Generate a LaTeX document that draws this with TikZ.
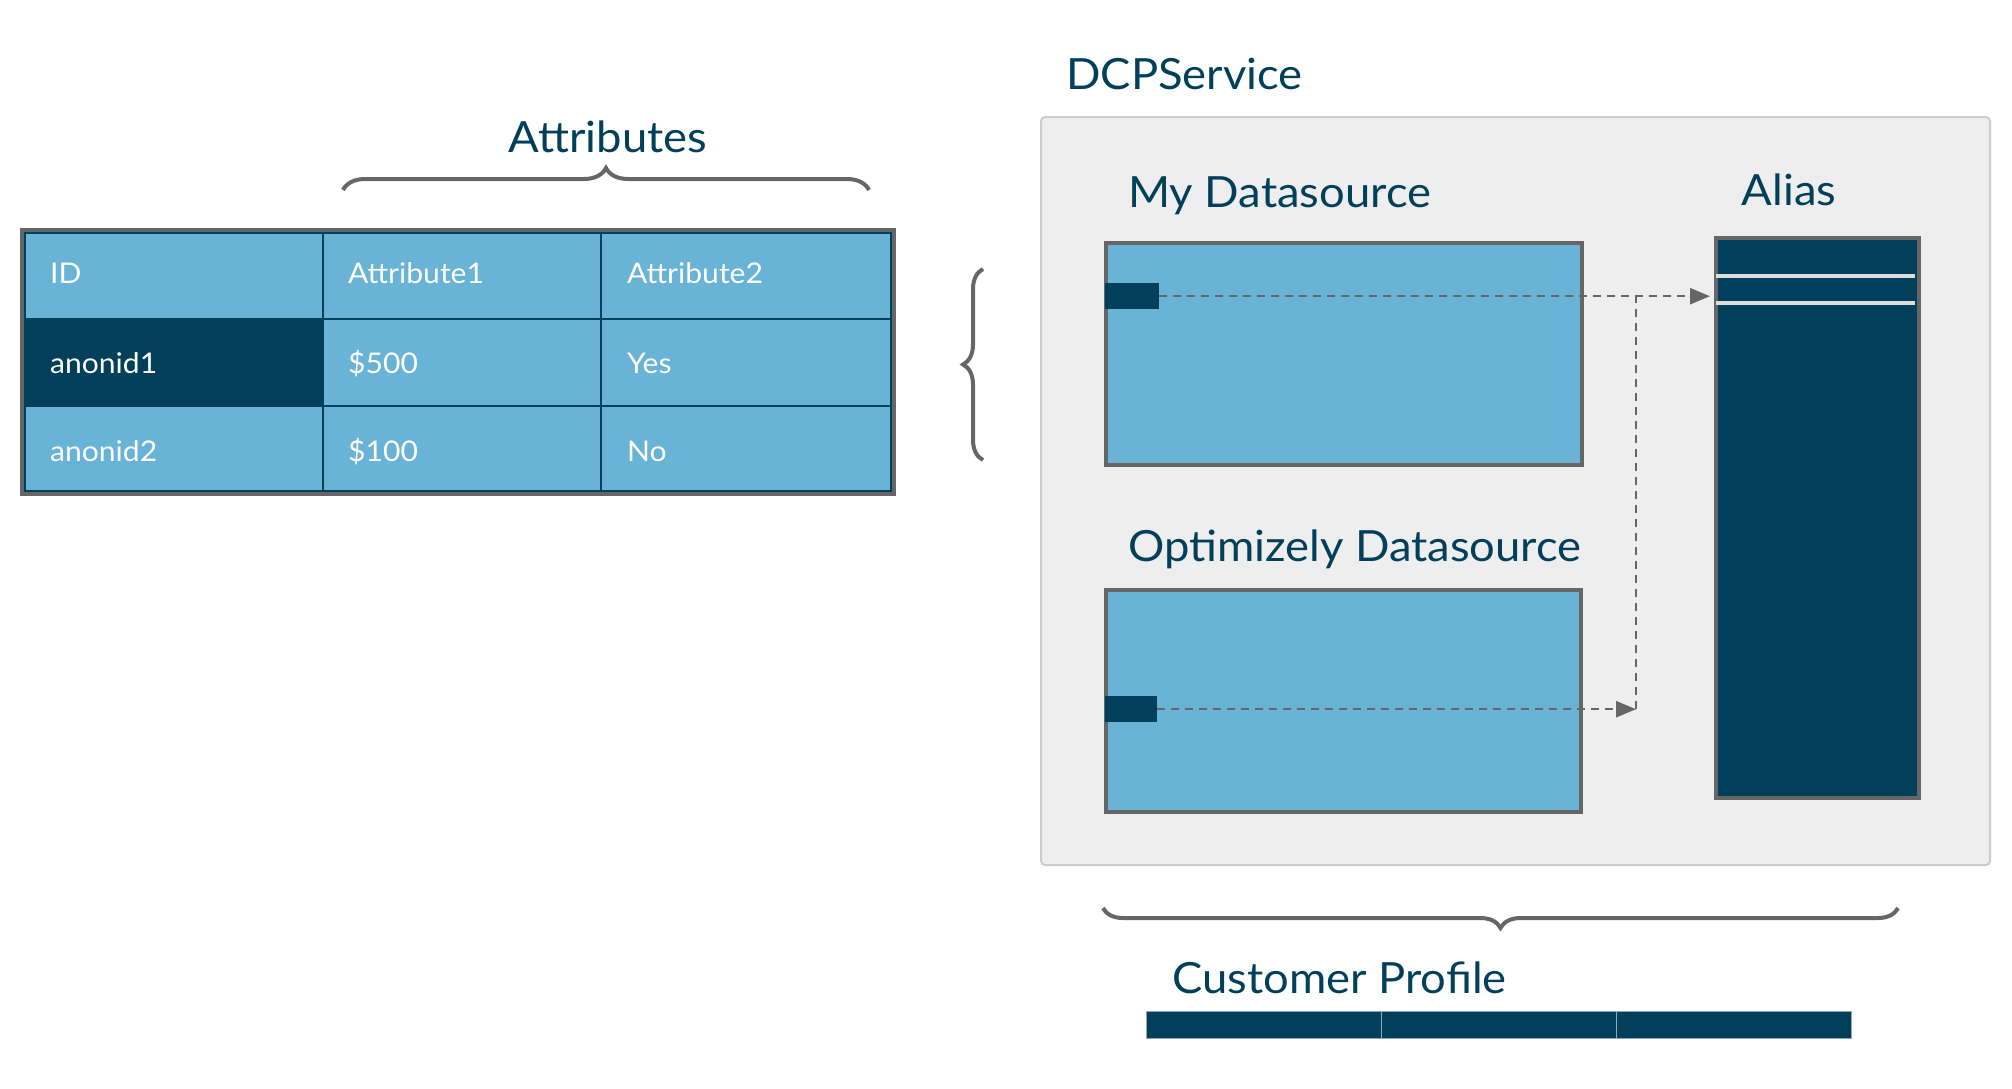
\documentclass[tikz,border=0pt]{standalone}
\usepackage{fontspec}
\setmainfont{Lato}[FakeStretch=1.055]
\usetikzlibrary{arrows.meta,decorations.pathreplacing}
\definecolor{navy}{HTML}{023F5A}
\definecolor{lblue}{HTML}{69B3D6}
\definecolor{dgray}{HTML}{666666}
\definecolor{panel}{HTML}{EEEEEE}
\definecolor{panelborder}{HTML}{CCCCCC}
\definecolor{aliasline}{HTML}{DDDDDD}
\begin{document}
\begin{tikzpicture}[x=1pt,y=-1pt,
  lbl/.style={text=navy,font=\fontsize{43}{50}\selectfont,inner sep=0pt,anchor=base west},
  cell/.style={text=white,font=\fontsize{28.5}{34}\selectfont,inner sep=0pt,anchor=base west},
  brc/.style={draw=dgray,line width=4pt,decorate,decoration={brace,amplitude=#1}},
  conn/.style={draw=dgray,line width=2.5pt,dash pattern=on 8pt off 6pt,-{Triangle[length=20pt,width=16pt]}},
  vline/.style={draw=dgray,line width=2pt,dash pattern=on 8pt off 6pt},
  dsbox/.style={draw=dgray,fill=lblue,line width=4pt,anchor=north west,inner sep=0pt},
  keybox/.style={fill=navy,anchor=north west,inner sep=0pt},
  cpseg/.style={fill=navy,draw=navy!45!white,line width=0.8pt,anchor=north west,inner sep=0pt,minimum height=27pt}
]
\useasboundingbox (0,0) rectangle (2012,1088);

% ---------- table ----------
\fill[lblue] (22,230) rectangle (894,494);
\fill[navy] (22,319) rectangle (323,406);
\draw[navy,line width=2pt] (323,230)--(323,494) (601,230)--(601,494)
  (22,319)--(894,319) (22,406)--(894,406);
\draw[navy,line width=2pt] (25,233) rectangle (891,491);
\draw[dgray,line width=3.5pt] (22,230) rectangle (894,494);

\node[cell] (id) at (50,283) {ID};
\node[cell] (a1) at (348,283) {Attribute1};
\node[cell] (a2) at (627,283) {Attribute2};
\node[cell] (r1) at (50,373) {anonid1};
\node[cell] (v1) at (348,373) {\$500};
\node[cell] (y1) at (627,373) {Yes};
\node[cell] (r2) at (50,461) {anonid2};
\node[cell] (v2) at (348,461) {\$100};
\node[cell] (n2) at (627,461) {No};

\node[lbl,anchor=base] (attr) at (608,152) {Attributes};
\draw[brc=22pt] (343,190) -- (869,190);
\draw[brc=20pt] (983,460) -- (983,269);

% ---------- DCPService panel ----------
\draw[draw=panelborder,fill=panel,line width=2pt,rounded corners=4pt] (1041,117) rectangle (1990,865);
\node[lbl] (dcp) at (1066,89) {DCPService};

\node[lbl] (myl) at (1128,207) {My Datasource};
\node[dsbox,minimum width=476pt,minimum height=222pt] (ds1) at (1104,241) {};
\node[keybox,minimum width=54pt,minimum height=26pt] (k1) at (1105,283) {};

\node[lbl] (optl) at (1128,561) {Optimizely Datasource};
\node[dsbox,minimum width=475pt,minimum height=222pt] (ds2) at (1104,588) {};
\node[keybox,minimum width=52pt,minimum height=26pt] (k2) at (1105,696) {};

\node[lbl,anchor=base] (aliasl) at (1789,205) {Alias};
\node[draw=dgray,fill=navy,line width=4pt,anchor=north west,inner sep=0pt,
      minimum width=203pt,minimum height=560pt] (alias) at (1714,236) {};
\draw[aliasline,line width=4pt] (1716,276) -- (1915,276) (1716,303) -- (1915,303);

\coordinate (j) at (1636,709);
\draw[vline] (k2.east -| j) -- (k1.east -| j);
\draw[conn,shorten >=4pt] (k1.east) -- (k1.east -| alias.west);
\draw[conn] (k2.east) -- (k2.east -| j);

% ---------- Customer profile ----------
\draw[brc=20pt] (1898,908) -- (1103,908);
\node[lbl] (cp) at (1172,993) {Customer Profile};
\node[cpseg,minimum width=235pt] (cp1) at (1146,1011) {};
\node[cpseg,minimum width=235pt] (cp2) at (1381,1011) {};
\node[cpseg,minimum width=235pt] (cp3) at (1616,1011) {};
\end{tikzpicture}
\end{document}
